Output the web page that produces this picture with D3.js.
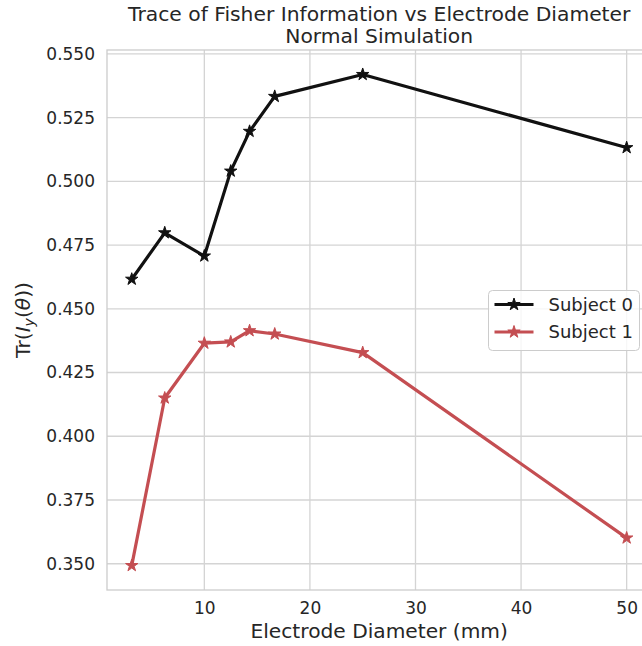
<!DOCTYPE html>
<html>
<head>
<meta charset="utf-8">
<script src="https://cdn.jsdelivr.net/npm/d3@7"></script>
<style>
  html, body { margin: 0; padding: 0; background: #fff; }
  svg { display: block; font-family: "DejaVu Sans", sans-serif; }
</style>
</head>
<body>
<svg id="chart" width="642" height="646"></svg>
<script>
// Electrode diameters (mm)
const diameters = [3.125, 6.25, 10, 12.5, 14.2857, 16.6667, 25, 50];
// Trace of the Fisher information per subject
const subject0 = [0.4616, 0.4798, 0.4707, 0.5040, 0.5196, 0.5333, 0.5419, 0.5132];
const subject1 = [0.3493, 0.4150, 0.4365, 0.4370, 0.4414, 0.4401, 0.4328, 0.3601];
const seriesNames = ["Subject 0", "Subject 1"];
const seriesColors = ["#111111", "#C44E52"];
const xTicks = [10, 20, 30, 40, 50];
const yTicks = [0.350, 0.375, 0.400, 0.425, 0.450, 0.475, 0.500, 0.525, 0.550];

const svg = d3.select("#chart");
const plot = { left: 107, right: 651.4, top: 50, bottom: 590 };
const textColor = "#262626";
const gridColor = "#d4d4d4";

const x = d3.scaleLinear().domain([0.781, 52.344]).range([plot.left, plot.right]);
const y = d3.scaleLinear().domain([0.3397, 0.5515]).range([plot.bottom, plot.top]);

// Clip region for the axes
svg.append("defs").append("clipPath").attr("id", "plotclip")
  .append("rect").attr("x", plot.left).attr("y", plot.top)
  .attr("width", plot.right - plot.left).attr("height", plot.bottom - plot.top);

// Grid lines
const grid = svg.append("g");
grid.selectAll(".gx").data(xTicks).join("line")
  .attr("x1", d => x(d)).attr("x2", d => x(d))
  .attr("y1", plot.top).attr("y2", plot.bottom)
  .attr("stroke", gridColor).attr("stroke-width", 1.3);
grid.selectAll(".gy").data(yTicks).join("line")
  .attr("x1", plot.left).attr("x2", plot.right)
  .attr("y1", d => y(d)).attr("y2", d => y(d))
  .attr("stroke", gridColor).attr("stroke-width", 1.3);

// Spines
svg.append("rect")
  .attr("x", plot.left).attr("y", plot.top)
  .attr("width", plot.right - plot.left).attr("height", plot.bottom - plot.top)
  .attr("fill", "none").attr("stroke", "#cccccc").attr("stroke-width", 1.3);

// Axes (labels only, no tick marks)
const xAxis = d3.axisBottom(x).tickValues(xTicks).tickSize(0).tickPadding(12).tickFormat(d3.format("d"));
const gx = svg.append("g").attr("transform", `translate(0,${plot.bottom})`).call(xAxis);
gx.select(".domain").remove();
gx.selectAll("text").attr("font-size", 17).attr("fill", textColor).attr("font-family", "DejaVu Sans");

const yAxis = d3.axisLeft(y).tickValues(yTicks).tickSize(0).tickPadding(12).tickFormat(d3.format(".3f"));
const gy = svg.append("g").attr("transform", `translate(${plot.left},0)`).call(yAxis);
gy.select(".domain").remove();
gy.selectAll("text").attr("font-size", 17).attr("fill", textColor).attr("font-family", "DejaVu Sans");

// Five-pointed star marker
function starPath(R) {
  const r = R * 0.381966;
  const pts = [];
  for (let i = 0; i < 10; i++) {
    const a = -Math.PI / 2 + i * Math.PI / 5;
    const rr = i % 2 === 0 ? R : r;
    pts.push([rr * Math.cos(a), rr * Math.sin(a)]);
  }
  return "M" + pts.map(p => p[0].toFixed(2) + "," + p[1].toFixed(2)).join("L") + "Z";
}
const star = starPath(6.5);

const series = [subject0, subject1];
const line = d3.line().x(d => x(d[0])).y(d => y(d[1]));
const marks = svg.append("g").attr("clip-path", "url(#plotclip)");
series.forEach((vals, i) => {
  const pts = diameters.map((d, j) => [d, vals[j]]);
  marks.append("path").datum(pts)
    .attr("d", line).attr("fill", "none")
    .attr("stroke", seriesColors[i]).attr("stroke-width", 3.2)
    .attr("stroke-linejoin", "round").attr("stroke-linecap", "square");
  marks.selectAll(".m" + i).data(pts).join("path")
    .attr("d", star)
    .attr("transform", d => `translate(${x(d[0])},${y(d[1])})`)
    .attr("fill", seriesColors[i]).attr("stroke", seriesColors[i]).attr("stroke-width", 1);
});

// Titles
const title = svg.append("text").attr("text-anchor", "middle")
  .attr("fill", textColor).attr("font-size", 20.3);
title.append("tspan").attr("x", (plot.left + plot.right) / 2).attr("y", 21)
  .text("Trace of Fisher Information vs Electrode Diameter");
title.append("tspan").attr("x", (plot.left + plot.right) / 2).attr("y", 43)
  .text("Normal Simulation");

svg.append("text").attr("x", (plot.left + plot.right) / 2).attr("y", 638)
  .attr("text-anchor", "middle").attr("fill", textColor).attr("font-size", 20.2)
  .text("Electrode Diameter (mm)");

const yl = svg.append("text")
  .attr("transform", `translate(30,${(plot.top + plot.bottom) / 2}) rotate(-90)`)
  .attr("text-anchor", "middle").attr("fill", textColor).attr("font-size", 20.2);
yl.append("tspan").text("Tr(");
yl.append("tspan").attr("font-style", "italic").text("I");
yl.append("tspan").attr("font-style", "italic").attr("font-size", 14).attr("dy", 4).text("y");
yl.append("tspan").attr("dy", -4).text("(");
yl.append("tspan").attr("font-style", "italic").text("θ");
yl.append("tspan").text("))");

// Legend
const lg = svg.append("g").attr("transform", "translate(488.5,290.5)");
lg.append("rect").attr("width", 151).attr("height", 60).attr("rx", 4)
  .attr("fill", "#ffffff").attr("fill-opacity", 0.8)
  .attr("stroke", "#cccccc").attr("stroke-width", 1);
seriesNames.forEach((name, i) => {
  const yy = 14 + i * 27.5;
  lg.append("line").attr("x1", 6).attr("x2", 45).attr("y1", yy).attr("y2", yy)
    .attr("stroke", seriesColors[i]).attr("stroke-width", 3.2);
  lg.append("path").attr("d", star).attr("transform", `translate(25.5,${yy})`)
    .attr("fill", seriesColors[i]).attr("stroke", seriesColors[i]).attr("stroke-width", 1);
  lg.append("text").attr("x", 60).attr("y", yy).attr("dy", "0.35em")
    .attr("font-size", 18).attr("fill", textColor).text(name);
});
</script>
</body>
</html>
